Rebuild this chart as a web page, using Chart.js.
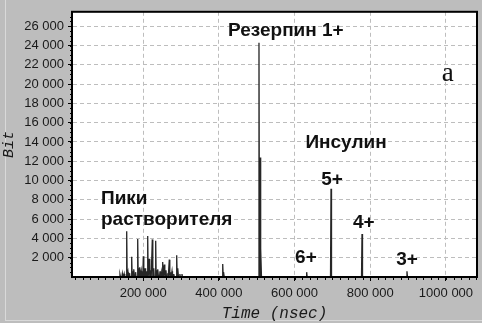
<!DOCTYPE html>
<html><head><meta charset="utf-8">
<script src="https://cdn.jsdelivr.net/npm/chart.js@4.4.1/dist/chart.umd.min.js"></script>
<style>html,body{margin:0;padding:0;background:#bdbdbd}</style>
</head><body><canvas id="c" width="482" height="323"></canvas>
<script>
// ---- data (time in nsec, intensity in Bit) ----
const peakTimes = [138800,145000,150000,156500,160000,164000,169700,173000,175800,180000,185600,188500,191600,195000,200400,204900,208000,212000,216200,220000,224200,228000,233100,236500,239200,244500,248000,251600,255900,260300,265000,269100,272500,276200,281000,288600,292000,297000,302600,410200,413000,506000,508700,511300,632000,696300,778200,897000];
const peakBits  = [250,350,300,4750,500,400,2100,600,800,500,3950,900,1000,600,2150,900,600,4250,1900,700,3900,900,3750,700,800,600,500,1550,1300,700,400,1800,500,600,300,2250,900,300,300,1350,500,24300,12400,2950,500,9150,4450,600];
const xTickValues = [200000,400000,600000,800000,1000000];
const yTickValues = [2000,4000,6000,8000,10000,12000,14000,16000,18000,20000,22000,24000,26000];
const xMin = 12000, xMax = 1082000, yMin = 0, yMax = 27500;
const annoTexts = ['Резерпин 1+','Инсулин','5+','4+','6+','3+','Пики','растворителя','a'];
const annoX = [577000,736000,699000,783000,630000,897000,88600,88600,1005000];
const annoY = [25000,13350,9500,5060,1420,1210,7590,5360,20330];

// ---- build spectrum line from the peak lists ----
const halfW = 1300;
const points = [{x:xMin,y:0}];
peakTimes.forEach((t,i)=>{
  points.push({x:t-halfW,y:0},{x:t,y:peakBits[i]},{x:t+halfW,y:0});
});
points.push({x:xMax,y:0});

function fmt(v){
  if (v===0) return '';
  const th = Math.floor(v/1000), r = v%1000;
  return th>0 ? th+' '+String(r).padStart(3,'0') : String(v);
}

const annoStyle = [
  {font:'bold 19px "Liberation Sans", Arial', align:'center'},
  {font:'bold 19px "Liberation Sans", Arial', align:'center'},
  {font:'bold 19px "Liberation Sans", Arial', align:'center'},
  {font:'bold 19px "Liberation Sans", Arial', align:'center'},
  {font:'bold 19px "Liberation Sans", Arial', align:'center'},
  {font:'bold 19px "Liberation Sans", Arial', align:'center'},
  {font:'bold 19px "Liberation Sans", Arial', align:'left'},
  {font:'bold 19px "Liberation Sans", Arial', align:'left'},
  {font:'27px "Liberation Serif", "Times New Roman"', align:'center'}
];

const decor = {
  id:'decor',
  beforeDraw(chart){
    const {ctx, chartArea:a, width, height} = chart;
    ctx.save();
    ctx.fillStyle = '#bdbdbd';
    ctx.fillRect(0,0,width,height);
    ctx.strokeStyle = '#d9d9d9';
    ctx.lineWidth = 1;
    ctx.beginPath();
    ctx.moveTo(5.5,0); ctx.lineTo(5.5,height-3);
    ctx.moveTo(5,height-2.5); ctx.lineTo(width,height-2.5);
    ctx.stroke();
    ctx.fillStyle = '#ffffff';
    ctx.fillRect(a.left,a.top,a.right-a.left,a.bottom-a.top);
    ctx.restore();
  },
  afterDatasetsDraw(chart){
    const {ctx, chartArea:a, scales} = chart;
    ctx.save();
    // frame
    ctx.strokeStyle = '#000';
    ctx.lineWidth = 2;
    ctx.strokeRect(a.left,a.top,a.right-a.left,a.bottom-a.top);
    // minor ticks
    ctx.lineWidth = 1;
    ctx.beginPath();
    for (let v=20000; v<xMax; v+=20000){
      const px = Math.round(scales.x.getPixelForValue(v))+0.5;
      ctx.moveTo(px,a.bottom); ctx.lineTo(px,a.bottom+3);
    }
    for (let v=500; v<yMax; v+=500){
      const py = Math.round(scales.y.getPixelForValue(v))+0.5;
      ctx.moveTo(a.left-2,py); ctx.lineTo(a.left,py);
    }
    ctx.stroke();
    // annotations
    ctx.fillStyle = '#111';
    ctx.textBaseline = 'alphabetic';
    annoTexts.forEach((t,i)=>{
      ctx.font = annoStyle[i].font;
      ctx.textAlign = annoStyle[i].align;
      ctx.fillText(t, scales.x.getPixelForValue(annoX[i]), scales.y.getPixelForValue(annoY[i]));
    });
    ctx.restore();
  }
};

const gridCommon = {color:'#bdbdbd', lineWidth:1, drawTicks:true, tickLength:4, tickColor:'#000', tickWidth:1, tickBorderDash:[], borderDash:[4,3]};

new Chart(document.getElementById('c'), {
  type:'line',
  data:{datasets:[{data:points, borderColor:'#262626', borderWidth:1.3, pointRadius:0, tension:0, fill:false}]},
  options:{
    responsive:false, animation:false, devicePixelRatio:1,
    layout:{padding:{left:0,top:5,right:5,bottom:0}},
    plugins:{legend:{display:false}, tooltip:{enabled:false}},
    scales:{
      x:{type:'linear', min:xMin, max:xMax,
        afterBuildTicks(s){ s.ticks = xTickValues.map(v=>({value:v})); },
        afterFit(s){ s.height = 46; },
        grid:{...gridCommon},
        border:{display:true, color:'rgba(0,0,0,0)', width:1, dash:[4,3]},
        ticks:{callback:fmt, maxRotation:0, autoSkip:false, padding:5, color:'#1a1a1a', font:{family:'"Liberation Sans", Arial', size:13}},
        title:{display:true, text:'Time (nsec)', color:'#1a1a1a', padding:{top:0,bottom:0}, font:{family:'"Liberation Mono", "Courier New"', size:16, style:'italic'}}
      },
      y:{type:'linear', min:yMin, max:yMax,
        afterBuildTicks(s){ s.ticks = yTickValues.map(v=>({value:v})); },
        afterFit(s){ s.width = 72; },
        grid:{...gridCommon},
        border:{display:true, color:'rgba(0,0,0,0)', width:1, dash:[4,3]},
        ticks:{callback:fmt, padding:4, color:'#1a1a1a', font:{family:'"Liberation Sans", Arial', size:13}},
        title:{display:true, text:'Bit', color:'#1a1a1a', padding:{top:0,bottom:0}, font:{family:'"Liberation Mono", "Courier New"', size:15, style:'italic'}}
      }
    }
  },
  plugins:[decor]
});
</script>
</body></html>
